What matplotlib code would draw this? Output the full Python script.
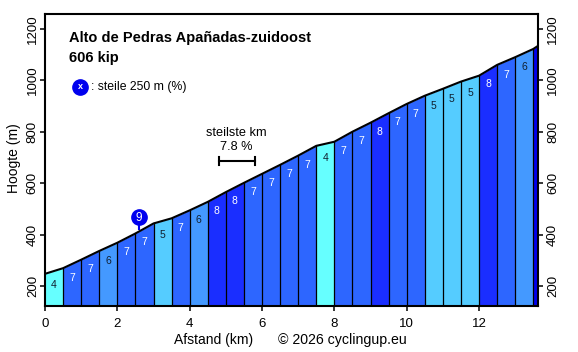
import matplotlib
matplotlib.use('Agg')
import matplotlib.pyplot as plt
from matplotlib.transforms import ScaledTranslation

plt.rcParams['font.family'] = ['Liberation Sans', 'DejaVu Sans']

dist = [0, 0.5, 1, 1.5, 2, 2.5, 3, 3.5, 4, 4.5, 5, 5.5, 6, 6.5, 7, 7.5, 8, 8.5, 9, 9.5, 10, 10.5, 11, 11.5, 12, 12.5, 13, 13.5, 13.63]
elev = [247, 269, 302, 336, 368, 404, 443, 463, 494, 527, 565, 601, 636, 671, 707, 745, 761, 800, 835, 872, 908, 940, 967, 995, 1018, 1060, 1090, 1122, 1134]
grade = [4, 7, 7, 6, 7, 7, 5, 7, 6, 8, 8, 7, 7, 7, 7, 4, 7, 7, 8, 7, 7, 5, 5, 5, 8, 7, 6, 9]
colors = {4: '#66FFFF', 5: '#55CCFF', 6: '#4499FF', 7: '#2D66FF', 8: '#1A2EFF', 9: '#0000EE'}

title = 'Alto de Pedras Apañadas-zuidoost'
subtitle = '606 kip'
steep_km = [4.8, 5.8]
steep_km_y = 686
steep_250_x = 2.6
steep_250_y = 468
steep_250_val = 9
ymin, ymax = 123, 1258
xmax = 13.63

fig = plt.figure(figsize=(5.78, 3.52), dpi=100)
ax = fig.add_axes([45 / 578, 1 - 305.7 / 352, 493 / 578, 291.7 / 352])

for i in range(len(grade)):
    ax.fill_between(dist[i:i + 2], elev[i:i + 2], ymin, color=colors[grade[i]], lw=0, zorder=1)
    if i > 0:
        ax.plot([dist[i], dist[i]], [ymin, elev[i]], color='black', lw=0.9, zorder=2)
    if i < len(grade) - 1:
        mid = (dist[i] + dist[i + 1]) / 2
        midy = (elev[i] + elev[i + 1]) / 2
        ax.text(mid, midy - 54, str(grade[i]), ha='center', va='center', fontsize=7.5,
                color='white' if grade[i] >= 7 else '#102030', zorder=3)
ax.plot(dist, elev, color='black', lw=1.5, zorder=4)

ax.set_xlim(0, xmax)
ax.set_ylim(ymin, ymax)
ax.set_xticks([0, 2, 4, 6, 8, 10, 12])
ax.set_yticks([200, 400, 600, 800, 1000, 1200])
ax.tick_params(axis='x', labelsize=9.5, length=3.6, width=1.1, pad=5)
ax.tick_params(axis='y', labelsize=9.5, length=3.6, width=1.1, pad=3, right=True, labelright=True)
shift = ScaledTranslation(3 / 100, 0, fig.dpi_scale_trans)
for t in ax.yaxis.get_major_ticks():
    t.label1.set_rotation(90)
    t.label1.set_va('center')
    t.label1.set_transform(t.label1.get_transform() + shift)
    t.label2.set_rotation(90)
    t.label2.set_va('center')
for s in ax.spines.values():
    s.set_linewidth(1.5)

fig.text(214 / 578, 1 - 340 / 352, 'Afstand (km)', ha='center', va='center', fontsize=10)
fig.text(278 / 578, 1 - 340 / 352, '© 2026 cyclingup.eu', ha='left', va='center', fontsize=10.2)
fig.text(14 / 578, 1 - 158 / 352, 'Hoogte (m)', rotation=90, ha='center', va='center', fontsize=10)

fig.text(69 / 578, 1 - 38 / 352, title, fontsize=10.5, fontweight='bold', va='center')
fig.text(69 / 578, 1 - 58 / 352, subtitle, fontsize=10.5, fontweight='bold', va='center')

# legenda
ax.plot([0.97], [974], 'o', ms=11, color='#0000EE', zorder=5)
ax.text(0.97, 974, 'x', color='white', fontsize=6.5, ha='center', va='center', fontweight='bold', zorder=6)
ax.text(1.26, 974, ': steile 250 m (%)', fontsize=8.8, va='center')

# steilste km
ax.plot(steep_km, [steep_km_y, steep_km_y], color='black', lw=1.5)
ax.plot([steep_km[0]] * 2, [steep_km_y - 14, steep_km_y + 14], color='black', lw=1.5)
ax.plot([steep_km[1]] * 2, [steep_km_y - 14, steep_km_y + 14], color='black', lw=1.5)
ax.text(5.3, 794, 'steilste km', fontsize=9.2, ha='center', va='center')
ax.text(5.3, 740, '7.8 %', fontsize=9.2, ha='center', va='center')

# steilste 250 m
ax.plot([steep_250_x, steep_250_x], [420, steep_250_y], color='#0000EE', lw=1.5, zorder=5)
ax.plot([steep_250_x], [steep_250_y], 'o', ms=11, color='#0000EE', zorder=5)
ax.text(steep_250_x, steep_250_y - 4, str(steep_250_val), color='white', fontsize=8.5, ha='center', va='center', zorder=6)

fig.savefig('out.png', dpi=100)
